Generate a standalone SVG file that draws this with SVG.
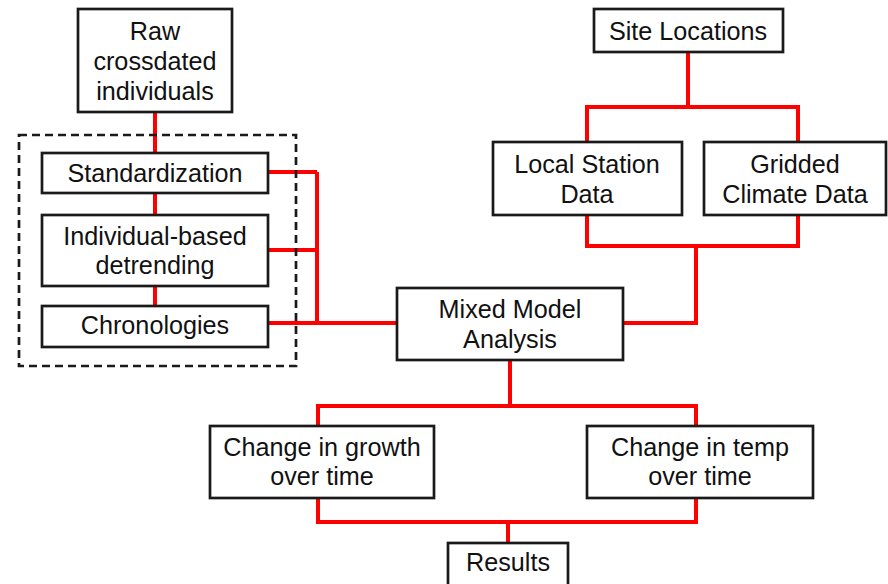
<svg xmlns="http://www.w3.org/2000/svg" width="888" height="584" viewBox="0 0 888 584">
<style>
.box{fill:#fff;stroke:#1a1a1a;stroke-width:2.7}
.lbl{font-family:"Liberation Sans",Arial,sans-serif;font-size:25.2px;fill:#111;text-anchor:middle}
.con{fill:none;stroke:#ff0000;stroke-width:4;stroke-linejoin:miter}
.grp{fill:none;stroke:#1a1a1a;stroke-width:2.7;stroke-dasharray:8 5}
</style>
<rect width="888" height="584" fill="#fff"/>
<g id="connectors">
<path class="con" d="M155 112V153M155 193V215M155 286V306"/>
<path class="con" d="M268 172H317M268 250H317M268 323H397M317 172V323"/>
<path class="con" d="M688 52V107M587 142V107H798V142"/>
<path class="con" d="M587 215V246H798V215M696 246V323H623"/>
<path class="con" d="M510 360V406M318 426V406H696V426"/>
<path class="con" d="M318 498V522H696V498M508 522V543"/>
</g>
<g id="group-processing"><rect class="grp" x="19" y="135" width="277" height="231"/></g>
<g id="raw"><rect class="box" x="78" y="9" width="154" height="103"/>
<text class="lbl" x="155" y="40">Raw</text><text class="lbl" x="155" y="70">crossdated</text><text class="lbl" x="155" y="100">individuals</text></g>
<g id="standardization"><rect class="box" x="42" y="153" width="226" height="40"/>
<text class="lbl" x="155" y="182">Standardization</text></g>
<g id="detrending"><rect class="box" x="42" y="215" width="226" height="71"/>
<text class="lbl" x="155" y="245">Individual-based</text><text class="lbl" x="155" y="274">detrending</text></g>
<g id="chronologies"><rect class="box" x="42" y="306" width="226" height="41"/>
<text class="lbl" x="155" y="334">Chronologies</text></g>
<g id="site"><rect class="box" x="594" y="9" width="189" height="43"/>
<text class="lbl" x="688" y="40">Site Locations</text></g>
<g id="local"><rect class="box" x="493" y="142" width="189" height="73"/>
<text class="lbl" x="587" y="173">Local Station</text><text class="lbl" x="587" y="203">Data</text></g>
<g id="gridded"><rect class="box" x="704" y="142" width="182" height="73"/>
<text class="lbl" x="795" y="173">Gridded</text><text class="lbl" x="795" y="203">Climate Data</text></g>
<g id="mixed"><rect class="box" x="397" y="288" width="226" height="72"/>
<text class="lbl" x="510" y="318">Mixed Model</text><text class="lbl" x="510" y="348">Analysis</text></g>
<g id="growth"><rect class="box" x="210" y="426" width="224" height="72"/>
<text class="lbl" x="322" y="456">Change in growth</text><text class="lbl" x="322" y="485">over time</text></g>
<g id="temp"><rect class="box" x="587" y="426" width="226" height="72"/>
<text class="lbl" x="700" y="456">Change in temp</text><text class="lbl" x="700" y="485">over time</text></g>
<g id="results"><rect class="box" x="448" y="543" width="120" height="50"/>
<text class="lbl" x="508" y="571">Results</text></g>
</svg>
